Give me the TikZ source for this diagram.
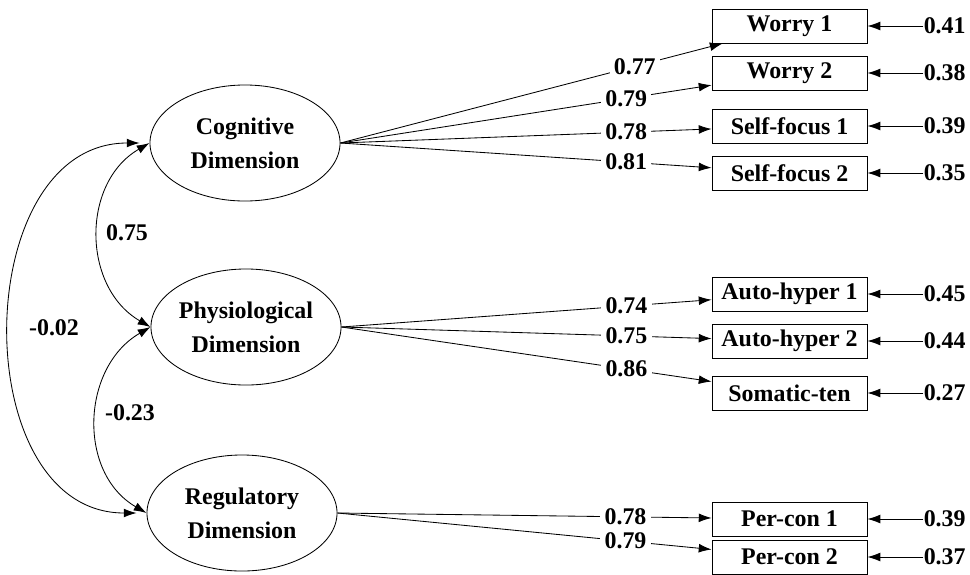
\documentclass[tikz,border=0pt]{standalone}
\usepackage{fontspec}
\setmainfont{Liberation Serif}
\usepackage{tikz}
\usetikzlibrary{shapes.geometric,arrows.meta,positioning}

\begin{document}
\begin{tikzpicture}[
  x=0.025cm,y=-0.025cm,
  font=\fontsize{17}{24}\selectfont\bfseries,
  latent/.style={draw,ellipse,minimum width=4.75cm,minimum height=2.9cm,
                 inner sep=0pt,align=center,line width=0.6pt},
  obs/.style={draw,rectangle,minimum width=3.875cm,minimum height=0.85cm,
              inner sep=0pt,line width=0.6pt},
  load/.style={-{Latex[length=3.2mm,width=2.2mm]},line width=0.6pt},
  corr/.style={{Latex[length=3.2mm,width=2.2mm]}-{Latex[length=3.2mm,width=2.2mm]},line width=0.6pt},
  errval/.style={inner sep=0pt},
  coef/.style={fill=white,inner xsep=3pt,inner ysep=1pt,pos=0.77}
]
\useasboundingbox (0,0) rectangle (970,574);

% latent factors
\node[latent] (cog) at (245,143) {Cognitive\\Dimension};
\node[latent] (phy) at (246,327) {Physiological\\Dimension};
\node[latent] (reg) at (242,513) {Regulatory\\Dimension};

% correlations
\draw[corr] (cog.west) to[out=210,in=150,looseness=1.1] (phy.west);
\draw[corr] (phy.west) to[out=210,in=150,looseness=1.1] (reg.west);
\draw[corr,shorten <=0.25cm,shorten >=0.25cm] (cog.west) to[out=180,in=180,looseness=1.25] (reg.west);
\node (r12) at (127,233) {0.75};
\node (r23) at (130,413) {-0.23};
\node (r13) at (54,328) {-0.02};

% indicators, loadings and errors
\foreach \n/\y/\t/\l/\e/\f in {
  wo1/26/Worry 1/0.77/0.41/cog,
  wo2/73/Worry 2/0.79/0.38/cog,
  sf1/126/Self-focus 1/0.78/0.39/cog,
  sf2/173/Self-focus 2/0.81/0.35/cog,
  ah1/294/Auto-hyper 1/0.74/0.45/phy,
  ah2/341/Auto-hyper 2/0.75/0.44/phy,
  st/393/Somatic-ten/0.86/0.27/phy,
  pc1/519/Per-con 1/0.78/0.39/reg,
  pc2/557/Per-con 2/0.79/0.37/reg}{
  \node[obs] (\n) at (789.5,\y) {\t};
  \draw[load] (\f.east) -- node[coef]{\l} (\n);
  \node[errval,right=1.4cm of \n] (e\n) {\e};
  \draw[load] (e\n) -- (\n);
}
\end{tikzpicture}
\end{document}
